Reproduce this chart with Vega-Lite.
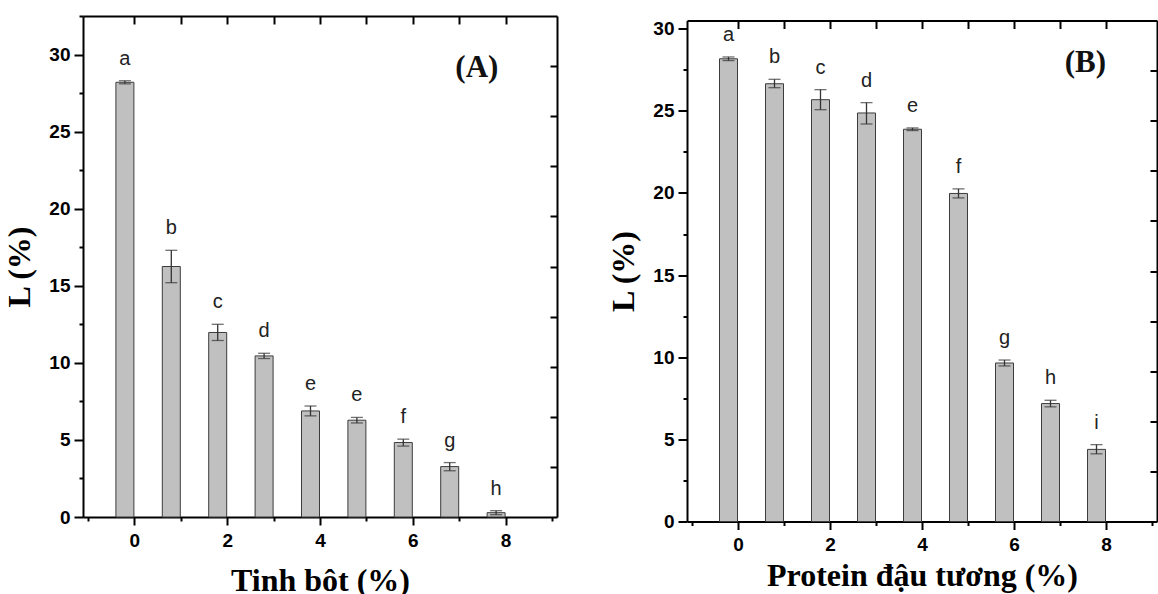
{
  "$schema": "https://vega.github.io/schema/vega-lite/v6.json",
  "background": "white",
  "padding": {"left": 3, "top": 15, "right": 0, "bottom": 0},
  "datasets": {
    "A": [
      {"conc": 0, "L": 28.2, "lo": 28.1, "hi": 28.3, "letter": "a"},
      {"conc": 1, "L": 16.25, "lo": 15.2, "hi": 17.3, "letter": "b"},
      {"conc": 2, "L": 11.97, "lo": 11.45, "hi": 12.5, "letter": "c"},
      {"conc": 3, "L": 10.45, "lo": 10.28, "hi": 10.62, "letter": "d"},
      {"conc": 4, "L": 6.88, "lo": 6.56, "hi": 7.2, "letter": "e"},
      {"conc": 5, "L": 6.28, "lo": 6.1, "hi": 6.46, "letter": "e"},
      {"conc": 6, "L": 4.83, "lo": 4.6, "hi": 5.05, "letter": "f"},
      {"conc": 7, "L": 3.27, "lo": 3.0, "hi": 3.53, "letter": "g"},
      {"conc": 8, "L": 0.28, "lo": 0.15, "hi": 0.41, "letter": "h"}
    ],
    "B": [
      {"conc": 0, "L": 28.17, "lo": 28.06, "hi": 28.28, "letter": "a"},
      {"conc": 1, "L": 26.65, "lo": 26.41, "hi": 26.92, "letter": "b"},
      {"conc": 2, "L": 25.68, "lo": 25.07, "hi": 26.29, "letter": "c"},
      {"conc": 3, "L": 24.87, "lo": 24.2, "hi": 25.5, "letter": "d"},
      {"conc": 4, "L": 23.88, "lo": 23.8, "hi": 23.96, "letter": "e"},
      {"conc": 5, "L": 19.97, "lo": 19.7, "hi": 20.25, "letter": "f"},
      {"conc": 6, "L": 9.65, "lo": 9.47, "hi": 9.83, "letter": "g"},
      {"conc": 7, "L": 7.18, "lo": 6.98, "hi": 7.38, "letter": "h"},
      {"conc": 8, "L": 4.39, "lo": 4.12, "hi": 4.68, "letter": "i"}
    ]
  },
  "hconcat": [
    {
      "width": 474,
      "height": 501,
      "data": {"name": "A"},
      "layer": [
        {
          "mark": {"type": "bar", "size": 18, "xOffset": -9.5, "fill": "#c0c0c0", "stroke": "#3c3c3c", "strokeWidth": 1},
          "encoding": {
            "x": {"field": "conc", "type": "quantitative", "scale": {"domain": [-1, 9], "nice": false, "zero": false},
              "axis": {"orient": "bottom", "values": [0, 2, 4, 6, 8], "tickSize": 8, "labelPadding": 6, "title": "Tinh bôt (%)", "titlePadding": 15, "format": "d"}},
            "y": {"field": "L", "type": "quantitative", "stack": null, "scale": {"domain": [0, 32.5], "nice": false},
              "axis": {"orient": "left", "values": [0, 5, 10, 15, 20, 25, 30], "tickSize": 9, "labelPadding": 4, "title": "L (%)", "titlePadding": 12, "format": "d"}}
          }
        },
        {
          "mark": {"type": "rule", "xOffset": -9.5, "color": "#333333", "strokeWidth": 1.3},
          "encoding": {
            "x": {"field": "conc", "type": "quantitative", "scale": {"domain": [-1, 9], "nice": false, "zero": false},
              "axis": {"orient": "bottom", "values": [-1, 1, 3, 5, 7, 9], "tickSize": 4, "labels": false, "domain": false, "title": null}},
            "y": {"field": "lo", "type": "quantitative", "scale": {"domain": [0, 32.5], "nice": false},
              "axis": {"orient": "left", "values": [2.5, 7.5, 12.5, 17.5, 22.5, 27.5, 32.5], "tickSize": 4, "labels": false, "domain": false, "title": null}},
            "y2": {"field": "hi"}
          }
        },
        {
          "mark": {"type": "tick", "orient": "horizontal", "size": 12, "thickness": 1.3, "xOffset": -9.5, "color": "#333333"},
          "encoding": {
            "x": {"field": "conc", "type": "quantitative", "scale": {"domain": [-1, 9], "nice": false, "zero": false},
              "axis": {"orient": "top", "values": [0, 1, 2, 3, 4, 5, 6, 7, 8], "tickSize": -8, "labels": false, "title": null}},
            "y": {"field": "lo", "type": "quantitative", "scale": {"domain": [0, 32.5], "nice": false},
              "axis": {"orient": "right", "values": [3.25, 6.5, 9.75, 13, 16.25, 19.5, 22.75, 26, 29.25], "tickSize": -7, "labels": false, "title": null}}
          }
        },
        {
          "mark": {"type": "tick", "orient": "horizontal", "size": 12, "thickness": 1.3, "xOffset": -9.5, "color": "#333333"},
          "encoding": {
            "x": {"field": "conc", "type": "quantitative", "scale": {"domain": [-1, 9], "nice": false, "zero": false}, "axis": null},
            "y": {"field": "hi", "type": "quantitative", "scale": {"domain": [0, 32.5], "nice": false}, "axis": null}
          }
        },
        {
          "mark": {"type": "text", "xOffset": -9.5, "dy": -16, "baseline": "alphabetic", "align": "center", "font": "Liberation Sans", "fontSize": 20, "color": "#222222"},
          "encoding": {
            "x": {"field": "conc", "type": "quantitative", "scale": {"domain": [-1, 9], "nice": false, "zero": false}, "axis": null},
            "y": {"field": "hi", "type": "quantitative", "scale": {"domain": [0, 32.5], "nice": false}, "axis": null},
            "text": {"field": "letter"}
          }
        },
        {
          "data": {"values": [{}]},
          "mark": {"type": "text", "font": "Liberation Serif", "fontWeight": "bold", "fontSize": 31, "align": "center", "baseline": "middle", "color": "#111111"},
          "encoding": {
            "x": {"datum": 7.38, "type": "quantitative", "scale": {"domain": [-1, 9], "nice": false, "zero": false}, "axis": null},
            "y": {"datum": 29.1, "type": "quantitative", "scale": {"domain": [0, 32.5], "nice": false}, "axis": null},
            "text": {"value": "(A)"}
          }
        }
      ],
      "resolve": {"axis": {"x": "independent", "y": "independent"}}
    },
    {
      "width": 470,
      "height": 501,
      "data": {"name": "B"},
      "layer": [
        {
          "mark": {"type": "bar", "size": 18, "xOffset": -9.5, "fill": "#c0c0c0", "stroke": "#3c3c3c", "strokeWidth": 1},
          "encoding": {
            "x": {"field": "conc", "type": "quantitative", "scale": {"domain": [-1, 9], "nice": false, "zero": false},
              "axis": {"orient": "bottom", "values": [0, 2, 4, 6, 8], "tickSize": 8, "labelPadding": 6, "title": "Protein đậu tương (%)", "titlePadding": 6, "format": "d"}},
            "y": {"field": "L", "type": "quantitative", "stack": null, "scale": {"domain": [0, 30.5], "nice": false},
              "axis": {"orient": "left", "values": [0, 5, 10, 15, 20, 25, 30], "tickSize": 9, "labelPadding": 4, "title": "L (%)", "titlePadding": 12, "format": "d"}}
          }
        },
        {
          "mark": {"type": "rule", "xOffset": -9.5, "color": "#333333", "strokeWidth": 1.3},
          "encoding": {
            "x": {"field": "conc", "type": "quantitative", "scale": {"domain": [-1, 9], "nice": false, "zero": false},
              "axis": {"orient": "bottom", "values": [-1, 1, 3, 5, 7, 9], "tickSize": 4, "labels": false, "domain": false, "title": null}},
            "y": {"field": "lo", "type": "quantitative", "scale": {"domain": [0, 30.5], "nice": false},
              "axis": {"orient": "left", "values": [2.5, 7.5, 12.5, 17.5, 22.5, 27.5], "tickSize": 4, "labels": false, "domain": false, "title": null}},
            "y2": {"field": "hi"}
          }
        },
        {
          "mark": {"type": "tick", "orient": "horizontal", "size": 12, "thickness": 1.3, "xOffset": -9.5, "color": "#333333"},
          "encoding": {
            "x": {"field": "conc", "type": "quantitative", "scale": {"domain": [-1, 9], "nice": false, "zero": false},
              "axis": {"orient": "top", "values": [0, 1, 2, 3, 4, 5, 6, 7, 8], "tickSize": -8, "labels": false, "title": null}},
            "y": {"field": "lo", "type": "quantitative", "scale": {"domain": [0, 30.5], "nice": false},
              "axis": {"orient": "right", "values": [3.05, 6.1, 9.15, 12.2, 15.25, 18.3, 21.35, 24.4, 27.45], "tickSize": -7, "labels": false, "title": null}}
          }
        },
        {
          "mark": {"type": "tick", "orient": "horizontal", "size": 12, "thickness": 1.3, "xOffset": -9.5, "color": "#333333"},
          "encoding": {
            "x": {"field": "conc", "type": "quantitative", "scale": {"domain": [-1, 9], "nice": false, "zero": false}, "axis": null},
            "y": {"field": "hi", "type": "quantitative", "scale": {"domain": [0, 30.5], "nice": false}, "axis": null}
          }
        },
        {
          "mark": {"type": "text", "xOffset": -9.5, "dy": -16, "baseline": "alphabetic", "align": "center", "font": "Liberation Sans", "fontSize": 20, "color": "#222222"},
          "encoding": {
            "x": {"field": "conc", "type": "quantitative", "scale": {"domain": [-1, 9], "nice": false, "zero": false}, "axis": null},
            "y": {"field": "hi", "type": "quantitative", "scale": {"domain": [0, 30.5], "nice": false}, "axis": null},
            "text": {"field": "letter"}
          }
        },
        {
          "data": {"values": [{}]},
          "mark": {"type": "text", "font": "Liberation Serif", "fontWeight": "bold", "fontSize": 31, "align": "center", "baseline": "middle", "color": "#111111"},
          "encoding": {
            "x": {"datum": 7.55, "type": "quantitative", "scale": {"domain": [-1, 9], "nice": false, "zero": false}, "axis": null},
            "y": {"datum": 27.9, "type": "quantitative", "scale": {"domain": [0, 30.5], "nice": false}, "axis": null},
            "text": {"value": "(B)"}
          }
        }
      ],
      "resolve": {"axis": {"x": "independent", "y": "independent"}}
    }
  ],
  "spacing": 49,
  "center": true,
  "config": {
    "view": {"stroke": null},
    "axis": {
      "grid": false,
      "labelFont": "Liberation Sans",
      "labelFontWeight": "bold",
      "labelFontSize": 19,
      "labelColor": "#000000",
      "labelFlush": false,
      "labelOverlap": false,
      "titleFont": "Liberation Serif",
      "titleFontWeight": "bold",
      "titleFontSize": 32,
      "titleColor": "#000000",
      "domainColor": "#000000",
      "domainWidth": 2,
      "tickColor": "#000000",
      "tickWidth": 2
    }
  }
}
